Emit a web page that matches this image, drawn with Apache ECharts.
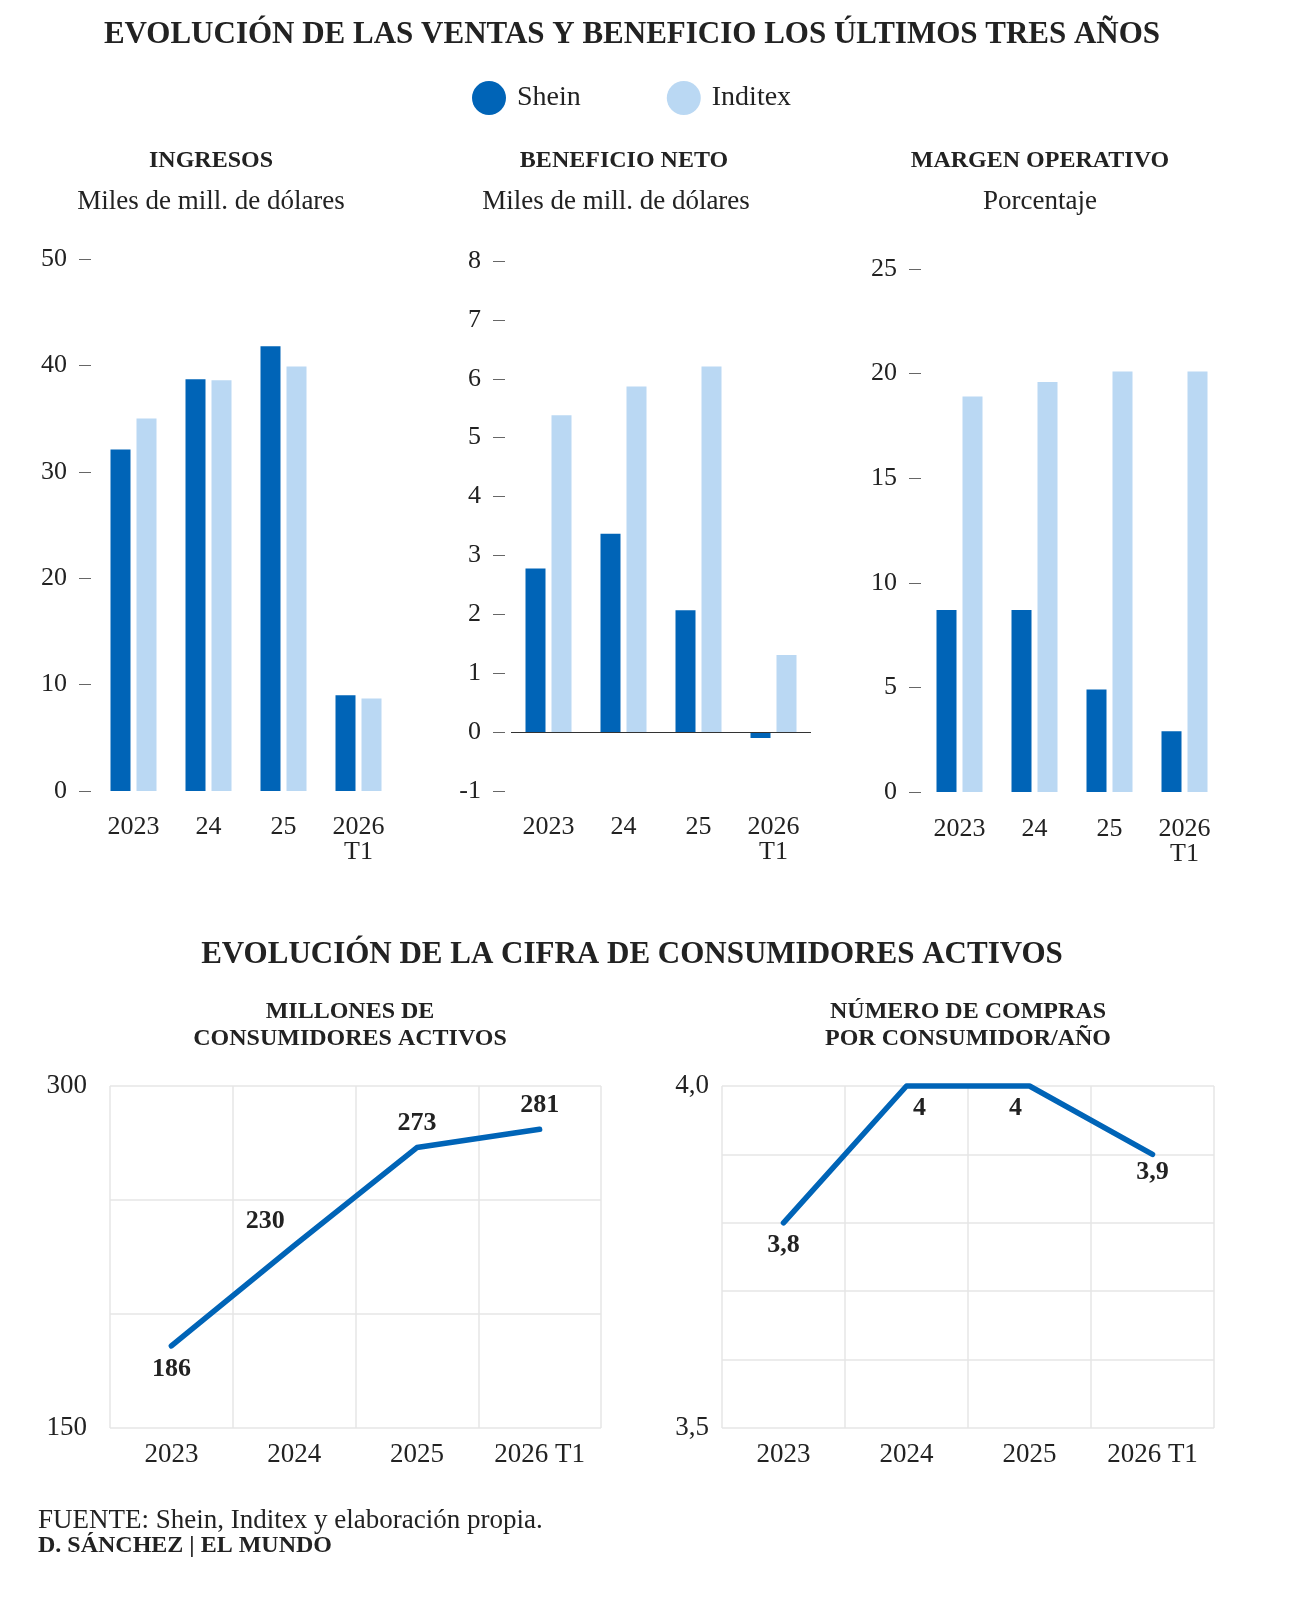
<!DOCTYPE html>
<html>
<head>
<meta charset="utf-8">
<script src="https://cdn.jsdelivr.net/npm/echarts@6/dist/echarts.min.js"></script>
<style>
  html, body { margin: 0; padding: 0; background: #fff; }
  #main { width: 1292px; height: 1600px; }
</style>
</head>
<body>
<div id="main"></div>
<script>
// datos
var barCats = ['2023', '24', '25', '2026\nT1'];
var revShein = [32.1, 38.7, 41.8, 9.0];
var revInditex = [35.0, 38.6, 39.9, 8.7];
var profShein = [2.78, 3.37, 2.07, -0.1];
var profInditex = [5.38, 5.87, 6.21, 1.31];
var marginShein = [8.7, 8.7, 4.9, 2.9];
var marginInditex = [18.9, 19.6, 20.1, 20.1];

var lineCats = ['2023', '2024', '2025', '2026 T1'];
var customers = [186, 230, 273, 281];
var purchases = [3.8, 4, 4, 3.9];

// rangos de ejes [min, max, intervalo]
var revAxis = [0, 50, 10];
var profAxis = [-1, 8, 1];
var marginAxis = [0, 25, 5];
var custAxis = [150, 300, 50];
var purchAxis = [3.5, 4.0, 0.1];

var SHEIN = '#0064b7';
var INDITEX = '#bad8f3';
var SERIF = '"Liberation Serif", "DejaVu Serif", serif';
var INK = '#222';

function comma(v) {
    return String(v).replace('.', ',');
}

function bar_y_axis(idx, range, offset) {
    return {
        gridIndex: idx,
        type: 'value',
        min: range[0],
        max: range[1],
        interval: range[2],
        offset: offset,
        axisLine: {show: false},
        axisTick: {show: true, length: 12, lineStyle: {color: '#666'}},
        splitLine: {show: false},
        axisLabel: {margin: 24, color: INK, fontFamily: SERIF, fontSize: 26}
    };
}

function bar_x_axis(idx, margin) {
    return {
        gridIndex: idx,
        type: 'category',
        data: barCats,
        axisLine: {show: false, onZero: false},
        axisTick: {show: false},
        axisLabel: {margin: margin, color: INK, fontFamily: SERIF, fontSize: 26, lineHeight: 25}
    };
}

function bar_series(idx, name, color, data) {
    return {
        name: name,
        type: 'bar',
        xAxisIndex: idx,
        yAxisIndex: idx,
        data: data,
        barWidth: 20,
        barGap: '30%',
        itemStyle: {color: color},
        silent: true
    };
}

function text_el(x, y, text, size, bold, align) {
    return {
        type: 'text',
        x: x,
        y: y,
        style: {
            text: text,
            fill: INK,
            font: (bold ? 'bold ' : '') + size + 'px ' + SERIF,
            align: align || 'center',
            verticalAlign: 'middle',
            lineHeight: size + 3
        }
    };
}

function line_y_axis(idx, range, margin, fmt) {
    return {
        gridIndex: idx,
        type: 'value',
        min: range[0],
        max: range[1],
        interval: range[2],
        axisLine: {show: false},
        axisTick: {show: false},
        splitLine: {show: true, lineStyle: {color: '#e6e6e6', width: 1.5}},
        axisLabel: {
            margin: margin, color: INK, fontFamily: SERIF, fontSize: 27,
            formatter: function (v) {
                if (Math.abs(v - range[0]) < 1e-6 || Math.abs(v - range[1]) < 1e-6) {
                    return fmt(v);
                }
                return '';
            }
        }
    };
}

function line_x_axis(idx) {
    return {
        gridIndex: idx,
        type: 'category',
        data: lineCats,
        boundaryGap: true,
        axisLine: {show: false},
        axisTick: {show: false},
        splitLine: {show: true, interval: 0, lineStyle: {color: '#e6e6e6', width: 1.5}},
        axisLabel: {margin: 13, color: INK, fontFamily: SERIF, fontSize: 27, interval: 0}
    };
}

var custData = customers.map(function (v, i) {
    var lab = {position: 'top', distance: 10};
    if (i === 0) { lab = {position: 'bottom', distance: 9}; }
    if (i === 1) { lab = {position: 'top', distance: 10, offset: [-29, 0]}; }
    return {value: v, label: lab};
});

var purchData = purchases.map(function (v, i) {
    var lab = {position: 'bottom', distance: 8};
    if (i === 1) { lab.offset = [13, 0]; }
    if (i === 2) { lab.offset = [-14, 0]; }
    if (i === 3) { lab.distance = 4; }
    return {value: v, label: lab};
});

function line_series(idx, data, fmt) {
    return {
        type: 'line',
        xAxisIndex: idx,
        yAxisIndex: idx,
        data: data,
        showSymbol: true,
        symbol: 'circle',
        symbolSize: 2,
        itemStyle: {color: SHEIN},
        clip: false,
        lineStyle: {color: SHEIN, width: 5.5, cap: 'round', join: 'round'},
        label: {
            show: true, color: INK, fontFamily: SERIF, fontSize: 26, fontWeight: 'bold',
            formatter: function (p) { return fmt(p.value); }
        },
        silent: true
    };
}

var chart = echarts.init(document.getElementById('main'));

chart.setOption({
    backgroundColor: '#fff',
    animation: false,
    legend: {
        data: ['Shein', 'Inditex'],
        icon: 'circle',
        left: 467,
        top: 76,
        itemWidth: 34,
        itemHeight: 34,
        itemGap: 86,
        selectedMode: false,
        textStyle: {color: INK, fontFamily: SERIF, fontSize: 28, padding: [0, 0, 0, 6]}
    },
    graphic: [
        text_el(632, 35, 'EVOLUCIÓN DE LAS VENTAS Y BENEFICIO LOS ÚLTIMOS TRES AÑOS', 31, true),
        text_el(211, 161, 'INGRESOS', 24, true),
        text_el(211, 202, 'Miles de mill. de dólares', 27, false),
        text_el(624, 161, 'BENEFICIO NETO', 24, true),
        text_el(616, 202, 'Miles de mill. de dólares', 27, false),
        text_el(1040, 161, 'MARGEN OPERATIVO', 24, true),
        text_el(1040, 202, 'Porcentaje', 27, false),
        text_el(632, 955, 'EVOLUCIÓN DE LA CIFRA DE CONSUMIDORES ACTIVOS', 31, true),
        text_el(350, 1025, 'MILLONES DE\nCONSUMIDORES ACTIVOS', 24, true),
        text_el(968, 1025, 'NÚMERO DE COMPRAS\nPOR CONSUMIDOR/AÑO', 24, true),
        text_el(38, 1521, 'FUENTE: Shein, Inditex y elaboración propia.', 27, false, 'left'),
        text_el(38, 1546, 'D. SÁNCHEZ | EL MUNDO', 24, true, 'left')
    ],
    grid: [
        {left: 96, top: 259, width: 300, height: 532},
        {left: 511, top: 261, width: 300, height: 530},
        {left: 922, top: 269, width: 300, height: 523},
        {left: 110, top: 1086, width: 491, height: 342},
        {left: 722, top: 1086, width: 492, height: 342}
    ],
    xAxis: [
        bar_x_axis(0, 24),
        bar_x_axis(1, 24),
        bar_x_axis(2, 25),
        line_x_axis(3),
        line_x_axis(4)
    ],
    yAxis: [
        bar_y_axis(0, revAxis, 5),
        bar_y_axis(1, profAxis, 6),
        bar_y_axis(2, marginAxis, 1),
        line_y_axis(3, custAxis, 23, function (v) { return String(v); }),
        line_y_axis(4, purchAxis, 13, function (v) { return comma(v.toFixed(1)); })
    ],
    series: [
        bar_series(0, 'Shein', SHEIN, revShein),
        bar_series(0, 'Inditex', INDITEX, revInditex),
        (function () {
            var s = bar_series(1, 'Shein', SHEIN, profShein);
            s.markLine = {
                silent: true,
                symbol: ['none', 'none'],
                label: {show: false},
                lineStyle: {color: '#333', width: 1, type: 'solid'},
                data: [{yAxis: 0}]
            };
            return s;
        })(),
        bar_series(1, 'Inditex', INDITEX, profInditex),
        bar_series(2, 'Shein', SHEIN, marginShein),
        bar_series(2, 'Inditex', INDITEX, marginInditex),
        line_series(3, custData, function (v) { return String(v); }),
        line_series(4, purchData, comma)
    ]
});
</script>
</body>
</html>
